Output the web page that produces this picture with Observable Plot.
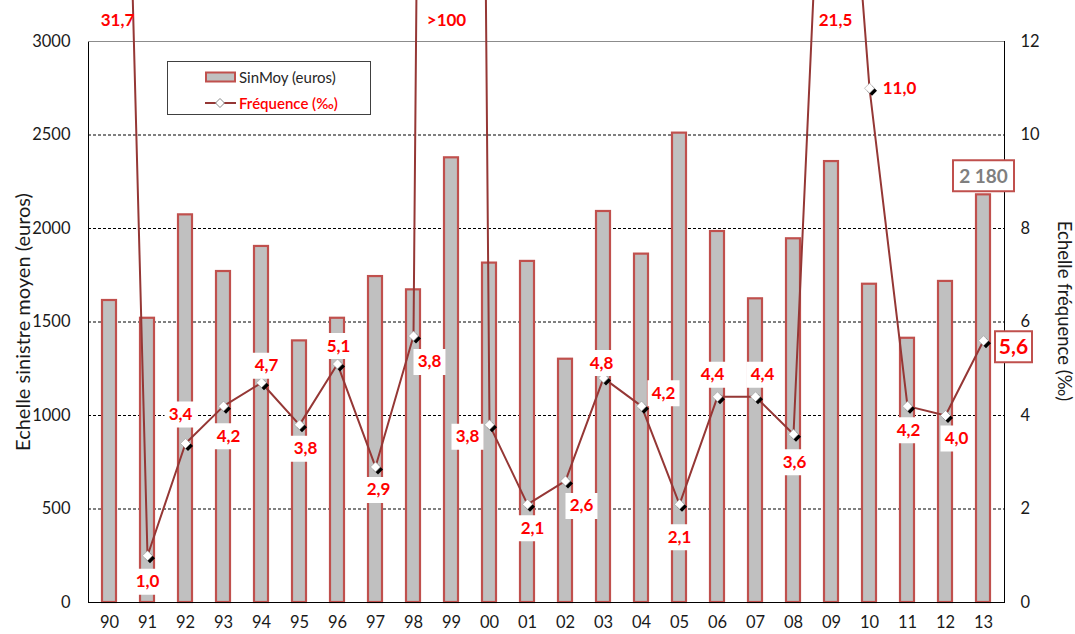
<!DOCTYPE html>
<html>
<head>
<meta charset="utf-8">
<script src="https://cdn.jsdelivr.net/npm/d3@7"></script>
<script src="https://cdn.jsdelivr.net/npm/@observablehq/plot@0.6"></script>
<style>
  html, body { margin: 0; padding: 0; background: white; }
  #wrap { position: relative; width: 1075px; height: 634px; font-family: Lato, "Open Sans", sans-serif; }
  #wrap svg { overflow: hidden; display: block; }
  #legend { position: absolute; left: 167px; top: 61px; width: 204px; height: 54px; border: 1px solid #404040; background: white; box-sizing: border-box; }
  #legend .row { position: absolute; left: 37px; height: 20px; display: flex; align-items: center; font-size: 15px; }
  #legend .lab { margin-left: 3px; }
</style>
</head>
<body>
<div id="wrap">
  <div id="chart"></div>
  <div id="legend">
    <div class="row" style="top:5px;">
      <svg width="31" height="12"><rect x="1" y="1.5" width="29" height="9" fill="#c0c0c0" stroke="#c0504d" stroke-width="2"/></svg>
      <span class="lab" style="color:#262626;">SinMoy (euros)</span>
    </div>
    <div class="row" style="top:31px;">
      <svg width="31" height="12"><line x1="0" y1="6" x2="31" y2="6" stroke="#953735" stroke-width="2"/><path d="M15,1.5 L19.5,6 L15,10.5 L10.5,6 Z" fill="white" stroke="#888" stroke-width="1"/></svg>
      <span class="lab" style="color:#ff0000; font-weight:600;">Fréquence (‰)</span>
    </div>
  </div>
</div>
<script>
// ---- data ----
const years = ["90","91","92","93","94","95","96","97","98","99","00","01","02","03","04","05","06","07","08","09","10","11","12","13"];
const sinMoy = [1615,1520,2073,1770,1904,1399,1520,1743,1672,2378,1815,1824,1301,2091,1863,2510,1984,1624,1945,2358,1702,1413,1717,2180];
const freq = [31.7,1.0,3.4,4.2,4.7,3.8,5.1,2.9,5.7,100,3.8,2.1,2.6,4.8,4.2,2.1,4.4,4.4,3.6,21.5,11.0,4.2,4.0,5.6];
const freqLabels = ["31,7","1,0","3,4","4,2","4,7","3,8","5,1","2,9","3,8",">100","3,8","2,1","2,6","4,8","4,2","2,1","4,4","4,4","3,6","21,5","11,0","4,2","4,0","5,6"];
const leftTicks = [0,500,1000,1500,2000,2500,3000];
const gridTicks = [500,1000,1500,2000,2500];
const rightTicks = [0,2,4,6,8,10,12];
const lastValueLabel = "2 180";

// ---- layout (label offsets relative to markers, in px) ----
const labelPlace = [
  {top:true, dx:8}, {dx:0, dy:26}, {dx:-5, dy:-29}, {dx:5, dy:30}, {dx:5, dy:-17}, {dx:6, dy:24},
  {dx:1, dy:-18}, {dx:3, dy:23}, {dx:16, dy:26}, {top:true, dx:-5}, {dx:-22, dy:12}, {dx:5, dy:24},
  {dx:16, dy:25}, {dx:-2, dy:-15}, {dx:22, dy:-13}, {dx:0, dy:33}, {dx:-5, dy:-22}, {dx:7, dy:-22},
  {dx:1, dy:28}, {top:true, dx:4}, {dx:30, dy:0}, {dx:1, dy:24}, {dx:11, dy:23}, {special:true, dx:30, dy:6}
];

const K = 3000 / 12; // frequency -> left-axis units
const rows = years.map((y, i) => ({year: y, sinmoy: sinMoy[i], freq: freq[i], label: freqLabels[i]}));

function rectSym(w, h) {
  return { draw(ctx) { ctx.rect(-w/2, -h/2, w, h); } };
}
const diamondSym = { draw(ctx) { ctx.moveTo(0,-5); ctx.lineTo(5,0); ctx.lineTo(0,5); ctx.lineTo(-5,0); ctx.closePath(); } };

const RED = "#ff0000";
const labelMarks = [];
rows.forEach((r, i) => {
  const p = labelPlace[i];
  if (p.top) {
    labelMarks.push(Plot.text([r], {x: "year", text: "label", frameAnchor: "top", textAnchor: "middle", lineAnchor: "middle", dx: p.dx, dy: -21,
      fill: RED, fontWeight: "bold", fontSize: 17}));
  } else if (p.special) {
    labelMarks.push(Plot.dot([r], {x: "year", y: d => d.freq * K, dx: p.dx, dy: p.dy, symbol: rectSym(37, 31),
      fill: "white", stroke: "#c0504d", strokeWidth: 2}));
    labelMarks.push(Plot.text([r], {x: "year", y: d => d.freq * K, text: "label", dx: p.dx, dy: p.dy + 1,
      fill: RED, fontWeight: "bold", fontSize: 21}));
  } else {
    const w = r.label.length > 3 ? 40 : 32;
    labelMarks.push(Plot.dot([r], {x: "year", y: d => d.freq * K, dx: p.dx, dy: p.dy, symbol: rectSym(w, 26),
      fill: "white", stroke: "none"}));
    labelMarks.push(Plot.text([r], {x: "year", y: d => d.freq * K, text: "label", dx: p.dx, dy: p.dy,
      fill: RED, fontWeight: "bold", fontSize: 17}));
  }
});

const lastRow = rows[rows.length - 1];

const chart = Plot.plot({
  width: 1075,
  height: 634,
  marginLeft: 88,
  marginRight: 71,
  marginTop: 41,
  marginBottom: 32,
  style: {fontFamily: "Lato, 'Open Sans', sans-serif", fontSize: "16px", color: "#1a1a1a", background: "white", overflow: "hidden"},
  x: {domain: years, paddingInner: 0.62, paddingOuter: 0.31, axis: null},
  y: {domain: [0, 3000], axis: null},
  marks: [
    Plot.ruleY(gridTicks, {stroke: "black", strokeWidth: 1, strokeDasharray: "3,2"}),
    Plot.barY(rows, {x: "year", y: "sinmoy", fill: "#c0c0c0", stroke: "#c0504d", strokeWidth: 2.2}),
    Plot.frame({stroke: "black", strokeWidth: 1}),
    Plot.ruleY([3000], {stroke: "#8c8c8c", strokeWidth: 1.2}),
    Plot.axisY(leftTicks, {anchor: "left", tickSize: 0, tickPadding: 18, tickFormat: d3.format("d"), fontSize: 16.5, label: null}),
    Plot.axisY(rightTicks.map(t => t * K), {anchor: "right", tickSize: 0, tickPadding: 16, tickFormat: d => d3.format("d")(d / K), fontSize: 16.5, label: null}),
    Plot.axisX({tickSize: 0, tickPadding: 14, fontSize: 16.5, label: null}),
    Plot.text(["Echelle sinistre moyen (euros)"], {frameAnchor: "left", textAnchor: "middle", dx: -65, rotate: -90, fontSize: 20, fill: "#1a1a1a"}),
    Plot.text(["Echelle fréquence (‰)"], {frameAnchor: "right", textAnchor: "middle", dx: 59, dy: -11, rotate: 90, fontSize: 18.5, fill: "#1a1a1a"}),
    Plot.line(rows, {x: "year", y: d => d.freq * K, stroke: "#953735", strokeWidth: 2}),
    Plot.dot(rows, {x: "year", y: d => d.freq * K, symbol: diamondSym, dx: 2.5, dy: 2.5, fill: "black", stroke: "none"}),
    Plot.dot(rows, {x: "year", y: d => d.freq * K, symbol: diamondSym, fill: "white", stroke: "#999", strokeWidth: 0.6}),
    ...labelMarks,
    Plot.dot([lastRow], {x: "year", y: "sinmoy", dy: -19, symbol: rectSym(61, 31), fill: "white", stroke: "#c0504d", strokeWidth: 2}),
    Plot.text([lastRow], {x: "year", y: "sinmoy", dy: -18, text: () => lastValueLabel, fill: "#7f7f7f", fontWeight: "bold", fontSize: 19})
  ]
});
document.getElementById("chart").appendChild(chart);
</script>
</body>
</html>
